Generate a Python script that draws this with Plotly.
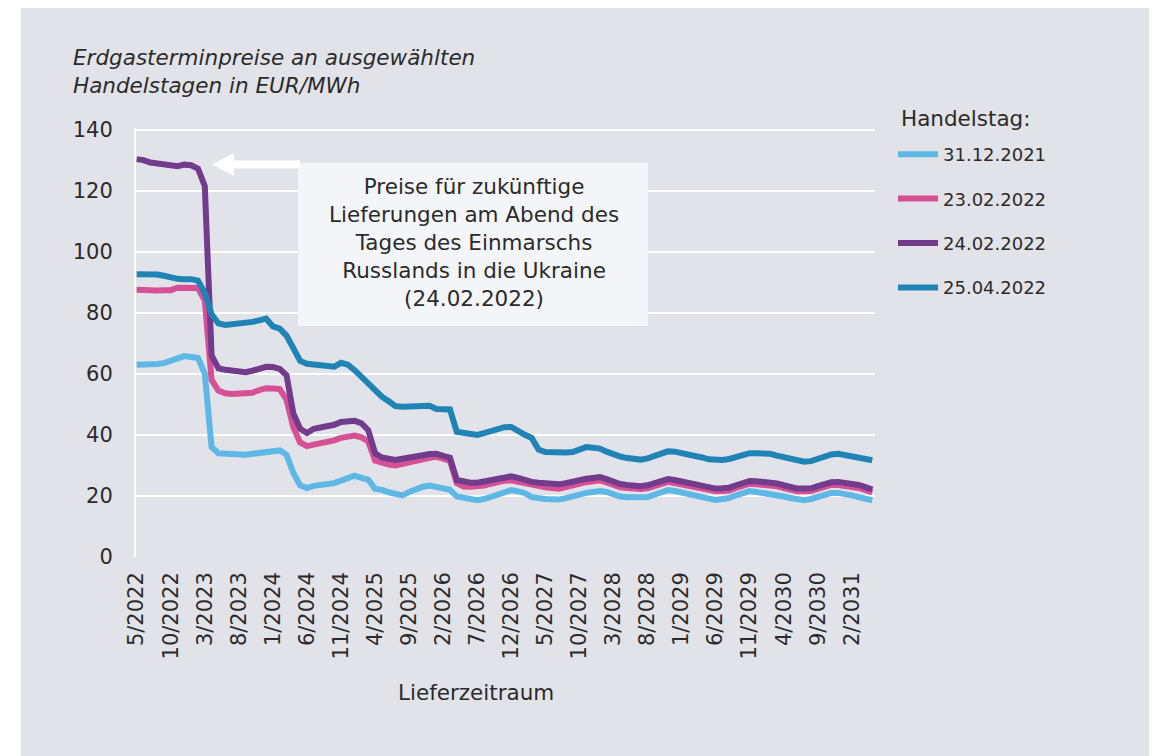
import plotly.graph_objects as go
import pandas as pd

# Monthly delivery periods 5/2022 .. 5/2031
months = pd.date_range("2022-05-01", "2031-05-01", freq="MS")
categories = [f"{d.month}/{d.year}" for d in months]
tick_labels = categories[::5]

s_31_12_2021 = [63, 63, 63, 63.2, 63.5, 64.2, 65, 65.8, 65.5, 65.2,
                60, 36, 34, 33.8, 33.5, 33.3, 33.5, 33.8, 34, 34.3,
                34.6, 34.9, 33.5, 27.5, 23.5, 22.6, 23.3, 23.6, 23.8, 24.2,
                25, 25.8, 26.6, 25.9, 25.3, 22.3, 22, 21.2, 20.6, 20.2,
                21.3, 22.3, 23, 23.4, 23, 22.6, 22, 19.8, 19.3, 18.9,
                18.6, 19, 19.6, 20.4, 21.2, 21.9, 21.5, 20.9, 19.6, 19.1,
                19, 18.9, 18.8, 19.3, 20, 20.6, 21, 21.3, 21.6, 21.3,
                20.5, 19.8, 19.6, 19.5, 19.5, 19.6, 20.4, 21.1, 21.9, 21.6,
                21, 20.8, 20.3, 19.7, 19.1, 18.7, 18.8, 19.3, 20.2, 21,
                21.6, 21.3, 21, 20.8, 20.3, 19.8, 19.3, 18.8, 18.6, 19,
                19.6, 20.4, 21, 21, 20.8, 20.2, 19.6, 19.1, 18.6]

s_23_02_2022 = [87.5, 87.3, 87.3, 87.3, 87.4, 87.4, 88.2, 88.3, 88.2, 88.1,
                84, 58, 54.5, 53.6, 53.4, 53.4, 53.4, 53.8, 54.7, 55.3,
                55.2, 55, 51.5, 42.5, 37.5, 36.3, 36.8, 37.2, 37.6, 38.2,
                39, 39.6, 39.8, 39.2, 37.8, 31.6, 30.8, 30.3, 30, 30.4,
                31, 31.5, 32, 32.5, 32.8, 32.2, 31.5, 24.2, 23.1, 23,
                23, 23.4, 24, 24.6, 25, 25.1, 24.6, 23.9, 23.4, 23.1,
                22.8, 22.6, 22.4, 22.9, 23.6, 24.2, 24.5, 24.8, 25.1, 24.4,
                23.5, 22.8, 22.6, 22.4, 22.3, 22.5, 23.3, 24, 24.6, 24.2,
                23.7, 23.4, 23, 22.3, 21.7, 21.5, 21.6, 21.8, 22.6, 23.4,
                24, 23.8, 23.7, 23.6, 23.2, 22.6, 22, 21.5, 21.5, 21.6,
                22.3, 23, 23.6, 23.6, 23.4, 23.1, 22.6, 21.9, 21.2]

s_24_02_2022 = [130.3, 130, 129.2, 128.8, 128.4, 128, 128, 128.5, 128.3, 127.2,
                121.5, 66, 61.8, 61.3, 61, 60.8, 60.5, 61, 61.8, 62.3,
                62.2, 61.6, 59.5, 47, 42, 40.6, 42, 42.3, 42.7, 43.3,
                44.2, 44.4, 44.6, 43.8, 41.5, 34, 32.6, 32.2, 31.8, 32.2,
                32.7, 33, 33.3, 33.7, 33.8, 33.1, 32.5, 25.2, 24.5, 24.3,
                24.3, 24.7, 25.3, 25.9, 26.3, 26.4, 25.9, 25.1, 24.6, 24.3,
                24.1, 23.9, 23.8, 24.2, 24.8, 25.3, 25.6, 25.9, 26.2, 25.5,
                24.6, 23.9, 23.6, 23.3, 23.2, 23.5, 24.3, 25, 25.5, 25.2,
                24.7, 24.4, 23.9, 23.2, 22.7, 22.4, 22.5, 22.7, 23.5, 24.3,
                24.9, 24.8, 24.7, 24.6, 24.1, 23.5, 22.9, 22.4, 22.4, 22.5,
                23.2, 23.9, 24.5, 24.6, 24.4, 24.1, 23.6, 22.9, 22.1]

s_25_04_2022 = [92.6, 92.6, 92.6, 92.5, 92.1, 91.5, 91.1, 91, 91, 90.5,
                86.5, 79.5, 76.5, 76, 76.2, 76.5, 76.7, 77, 77.5, 78.1,
                75.5, 74.8, 72.5, 68, 64.2, 63.3, 63.1, 62.9, 62.6, 62.3,
                63.6, 63, 61.2, 59, 57, 54.5, 52.5, 51, 49.4, 49.2,
                49.3, 49.5, 49.6, 49.5, 48.5, 48.5, 48.3, 41, 40.6, 40.2,
                40, 40.6, 41.4, 42, 42.5, 42.6, 41.2, 40, 39, 35.2,
                34.4, 34.2, 34.1, 34.2, 34.4, 35.4, 36, 35.8, 35.5, 34.5,
                33.5, 32.9, 32.4, 32.1, 31.9, 32.3, 33, 33.9, 34.6, 34.5,
                34.1, 33.7, 33.2, 32.6, 32, 31.7, 31.8, 32.1, 32.8, 33.5,
                34, 34, 33.9, 33.8, 33.2, 32.6, 32, 31.5, 31.2, 31.4,
                32.2, 33, 33.6, 33.8, 33.3, 33, 32.6, 32, 31.7]

series_names = ["31.12.2021", "23.02.2022", "24.02.2022", "25.04.2022"]
series_values = [s_31_12_2021, s_23_02_2022, s_24_02_2022, s_25_04_2022]
series_colors = ["#5eb8e5", "#d65096", "#723b8b", "#1f83b5"]

y_ticks = [0, 20, 40, 60, 80, 100, 120, 140]

FONT = "DejaVu Sans, Open Sans, sans-serif"
NUMFONT = "DejaVu Sans, Roboto, sans-serif"
TXT = "#2b2b2b"
BG = "#e2e3e8"

# page offset of the figure (browser body margin) and plot area in page pixels
OFF = 8
W, H = 1157 - OFF, 756 - OFF
PL, PR, PT, PB = 136, 875, 128, 557


def px(xp):
    return (xp - PL) / (PR - PL)


def py(yp):
    return (PB - yp) / (PB - PT)


fig = go.Figure()
for name, vals, col in zip(series_names, series_values, series_colors):
    fig.add_trace(go.Scatter(
        x=categories, y=vals, mode="lines", name=name, legendgroup=name,
        line=dict(color=col, width=6), hoverinfo="skip"))

shapes = [
    # white page strip on the left
    dict(type="rect", xref="paper", yref="paper", x0=px(0), x1=px(21), y0=py(800), y1=py(-5),
         fillcolor="white", line=dict(width=0), layer="below"),
    # annotation box
    dict(type="rect", xref="paper", yref="paper", x0=px(298), x1=px(648), y0=py(326), y1=py(163),
         fillcolor="#f4f5f8", line=dict(width=0), layer="above"),
    # white arrow pointing left
    dict(type="path", xref="paper", yref="paper",
         path=(f"M {px(212)} {py(164.5)} L {px(234)} {py(153)} L {px(234)} {py(160.5)} "
               f"L {px(300)} {py(160.5)} L {px(300)} {py(168.5)} L {px(234)} {py(168.5)} "
               f"L {px(234)} {py(176)} Z"),
         fillcolor="white", line=dict(width=0), layer="above"),
]

annotations = [
    dict(xref="paper", yref="paper", x=px(71), y=py(43), xanchor="left", yanchor="top",
         text="<i>Erdgasterminpreise an ausgewählten<br>Handelstagen in EUR/MWh</i>",
         showarrow=False, align="left", font=dict(family=FONT, size=21.5, color=TXT)),
    dict(xref="paper", yref="paper", x=px(474), y=py(242), xanchor="center", yanchor="middle",
         text="Preise für zukünftige<br>Lieferungen am Abend des<br>Tages des Einmarschs<br>"
              "Russlands in die Ukraine<br>(24.02.2022)",
         showarrow=False, align="center", font=dict(family=FONT, size=21.5, color=TXT)),
    dict(xref="paper", yref="paper", x=px(476), y=py(692), xanchor="center", yanchor="middle",
         text="Lieferzeitraum", showarrow=False, font=dict(family=FONT, size=21.5, color=TXT)),
    dict(xref="paper", yref="paper", x=px(899), y=py(119), xanchor="left", yanchor="middle",
         text="Handelstag:", showarrow=False, font=dict(family=FONT, size=21.5, color=TXT)),
]

fig.update_layout(
    width=W, height=H,
    margin=dict(l=PL - OFF, r=W - (PR - OFF), t=PT - OFF, b=H - (PB - OFF), pad=0),
    paper_bgcolor=BG, plot_bgcolor=BG,
    font=dict(family=FONT, size=20, color=TXT),
    shapes=shapes, annotations=annotations,
    showlegend=True,
    legend=dict(x=px(893), y=py(136), xanchor="left", yanchor="top",
                bgcolor="rgba(0,0,0,0)", font=dict(family=NUMFONT, size=18, color=TXT),
                tracegroupgap=18, itemwidth=40),
    xaxis=dict(type="category", range=[-0.1, 108.4], tickmode="array",
               tickvals=tick_labels, ticktext=tick_labels, tickangle=-90,
               showgrid=False, zeroline=False, showline=False, ticks="",
               ticklabelstandoff=10,
               tickfont=dict(family=NUMFONT, size=21, color=TXT)),
    yaxis=dict(range=[0, 140.5], tickmode="array", tickvals=y_ticks,
               showgrid=True, gridcolor="white", gridwidth=2,
               zeroline=False, showline=True, linecolor="white", linewidth=2,
               ticks="", ticklabelstandoff=17,
               tickfont=dict(family=NUMFONT, size=21, color=TXT)),
)

fig.write_html("out.html")
